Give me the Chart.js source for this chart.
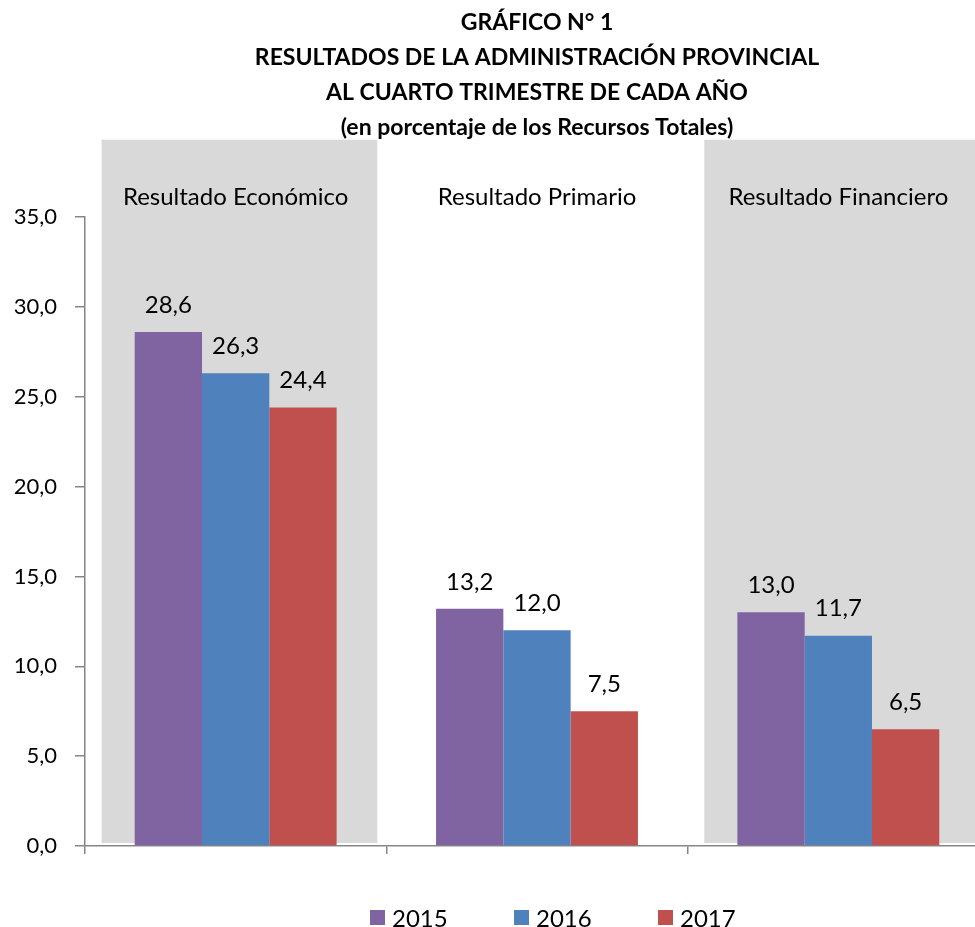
<!DOCTYPE html>
<html>
<head>
<meta charset="utf-8">
<script src="https://cdn.jsdelivr.net/npm/chart.js@4"></script>
<style>
    html, body { margin: 0; padding: 0; overflow: hidden; background: #fff; }
    #wrap { position: relative; width: 989px; height: 927px; }
    #legend { position: absolute; left: 370px; top: 903px; display: flex; font-family: Lato, sans-serif; font-size: 24px; color: #000; }
    #legend .item { width: 144px; display: flex; align-items: center; }
    #legend .box { width: 15px; height: 15px; margin-right: 7px; }
</style>
</head>
<body>
<div id="wrap">
    <canvas id="chart"></canvas>
    <div id="legend"></div>
</div>
<script>
// Chart data
const categories = ['Resultado Económico', 'Resultado Primario', 'Resultado Financiero'];
const years = ['2015', '2016', '2017'];
const values2015 = [28.6, 13.2, 13.0];
const values2016 = [26.3, 12.0, 11.7];
const values2017 = [24.4, 7.5, 6.5];
const shadedCategories = [true, false, true];
const yMax = 35;
const yStep = 5;

const colors = ['#8064A2', '#4F81BD', '#C0504D'];
const fontName = 'Lato, sans-serif';

// Format numbers with comma decimal
function fmt(v) {
    return v.toFixed(1).replace('.', ',');
}

// Grey bands, category names and value labels
const decorPlugin = {
    id: 'decor',
    beforeDatasetsDraw(chart) {
        const ctx = chart.ctx;
        const x = chart.scales.x;
        const y = chart.scales.y;
        const w = (x.right - x.left) / categories.length;
        const top = y.getPixelForValue(39.3);
        const bottom = y.getPixelForValue(0) - 3;
        ctx.save();
        ctx.fillStyle = '#D9D9D9';
        shadedCategories.forEach((s, i) => {
            if (!s) return;
            const left = x.left + w * i + w * 0.055;
            ctx.fillRect(left, top, w * 0.915, bottom - top);
        });
        ctx.fillStyle = '#000';
        ctx.font = '24px ' + fontName;
        ctx.textAlign = 'center';
        ctx.textBaseline = 'middle';
        categories.forEach((c, i) => {
            ctx.fillText(c, x.getPixelForValue(i), y.getPixelForValue(36.1));
        });
        ctx.restore();
    },
    afterDatasetsDraw(chart) {
        const ctx = chart.ctx;
        ctx.save();
        ctx.fillStyle = '#000';
        ctx.font = '24px ' + fontName;
        ctx.textAlign = 'center';
        ctx.textBaseline = 'middle';
        chart.data.datasets.forEach((ds, di) => {
            chart.getDatasetMeta(di).data.forEach((bar, i) => {
                ctx.fillText(fmt(ds.data[i]), bar.x, bar.y - 27);
            });
        });
        ctx.restore();
    }
};

const ctx = document.getElementById('chart').getContext('2d');
const chart = new Chart(ctx, {
    type: 'bar',
    data: {
        labels: categories,
        datasets: [
            { label: years[0], data: values2015, backgroundColor: colors[0] },
            { label: years[1], data: values2016, backgroundColor: colors[1] },
            { label: years[2], data: values2017, backgroundColor: colors[2] }
        ]
    },
    options: {
        responsive: true,
        maintainAspectRatio: false,
        animation: false,
        datasets: { bar: { categoryPercentage: 0.67, barPercentage: 1 } },
        layout: { padding: { left: 0, right: 0, top: 0, bottom: 73 } },
        plugins: {
            legend: { display: false },
            tooltip: { enabled: false },
            title: {
                display: true,
                fullSize: false,
                text: [
                    'GRÁFICO N° 1',
                    'RESULTADOS DE LA ADMINISTRACIÓN PROVINCIAL',
                    'AL CUARTO TRIMESTRE DE CADA AÑO',
                    '(en porcentaje de los Recursos Totales)'
                ],
                color: '#000',
                font: { family: fontName, size: 23, weight: 'bold', lineHeight: 35 / 23 },
                padding: { top: 5, bottom: 72 }
            }
        },
        scales: {
            x: {
                grid: { offset: true, drawOnChartArea: false, drawTicks: true, tickLength: 8, color: '#868686', lineWidth: 1.5 },
                border: { color: '#868686', width: 1.5 },
                ticks: { display: false }
            },
            y: {
                min: 0,
                max: yMax,
                ticks: {
                    stepSize: yStep,
                    padding: 18,
                    color: '#000',
                    font: { family: fontName, size: 22 },
                    callback: v => fmt(v)
                },
                grid: { drawOnChartArea: false, drawTicks: true, tickLength: 10, color: '#868686', lineWidth: 1.5 },
                border: { color: '#868686', width: 1.5 },
                afterFit: s => { s.width = 85; }
            }
        }
    },
    plugins: [decorPlugin]
});

// Legend built from the same series
const legendEl = document.getElementById('legend');
years.forEach((yr, i) => {
    const item = document.createElement('div');
    item.className = 'item';
    item.innerHTML = '<span class="box" style="background:' + colors[i] + '"></span><span>' + yr + '</span>';
    legendEl.appendChild(item);
});
</script>
</body>
</html>
